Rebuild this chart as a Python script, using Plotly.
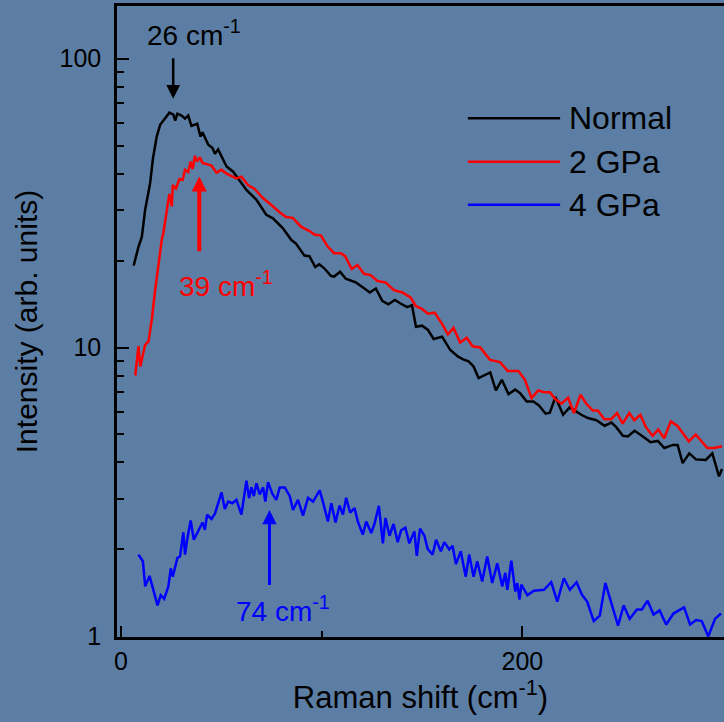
import math
import plotly.graph_objects as go

# Raman spectra: shift (cm^-1) and intensity (arb. units)
normal_shift = [6.3, 8.7, 10.4, 12, 14.5, 15.9, 17.8, 19.5, 22, 24.1, 26.1, 27, 28.1, 30.2,
                31.9, 33.5, 35.1, 38, 39.6, 40.6, 43.5, 45.6, 46.8, 48.4, 50, 52.6, 55.9,
                59.1, 62.5, 67.4, 72.4, 75.7, 80.6, 84.8, 87.2, 91.4, 93.9, 96.8, 98.8,
                101.3, 104.6, 106.2, 109.2, 112, 117, 120.3, 124, 127, 130.2, 133.2, 136.5,
                139.3, 142.6, 145, 147, 150, 153, 155.8, 160, 164.1, 168, 170.5, 173.2,
                175.7, 178.2, 184, 186.8, 189.8, 193.1, 196.4, 198.9, 202.2, 205.5, 208.3,
                211.6, 213.7, 216.5, 220.3, 223.6, 226.1, 229.4, 232.7, 236.9, 241, 244.4,
                246.8, 250.1, 252.6, 255.9, 260.1, 263.9, 267.5, 270.8, 275, 277.4, 279.9,
                283.2, 286.5, 291.4, 294.7, 298, 299.5]
normal_int = [19.2, 22.3, 24.2, 29.9, 37, 45, 53.7, 59, 62.2, 65, 64, 61, 64.5, 63.5,
              62, 63.5, 58.5, 59.5, 53.7, 55.6, 50.3, 49, 46.8, 48.5, 46, 42.3, 40.6,
              38, 35.1, 32.5, 28.8, 28, 25.9, 23.6, 22.9, 20.8, 20.7, 19, 19.4,
              18.8, 17.7, 17.6, 18.3, 17.3, 16.8, 16.2, 15.5, 16, 14.5, 14.1, 14.6,
              14.2, 13.8, 14, 11.8, 11.9, 11.5, 10.7, 10.9, 9.8, 9.3, 9.1, 8.95,
              8.6, 7.84, 8.2, 7.1, 7.73, 6.9, 7.15, 6.95, 6.5, 6.5, 6.3,
              5.9, 5.95, 6.74, 5.85, 6.2, 6.05, 5.85, 5.7, 5.6, 5.36, 5.5,
              5.3, 4.95, 4.92, 5.15, 4.92, 4.7, 4.75, 4.49, 4.6, 4.6, 3.98,
              4.3, 4.1, 4.08, 4.3, 3.58, 3.8]

gpa2_shift = [7.1, 8.7, 9.6, 10.9, 12, 13.7, 15.4, 17, 18.7, 20.3, 21.1, 23.6, 24.1, 25.3,
              25.8, 27.4, 29.1, 30.7, 31.9, 33.5, 34.7, 35.7, 36.8, 37.9, 39.3, 40.6, 42.6,
              45.1, 47.6, 50, 52.6, 55, 57.5, 60, 63.3, 66.6, 70.7, 74.8, 79, 82.3, 85.6,
              89.7, 93.9, 96.4, 99.7, 102.9, 106.2, 109.5, 111.7, 115, 117.8, 121.1, 124.4,
              127.7, 131.8, 136, 140.2, 144.3, 147, 150, 153, 156.3, 159.9, 162.9, 165.7,
              169, 172.3, 175.2, 179, 183.9, 188.9, 192.7, 198, 201.3, 204.6, 207.9, 210.9,
              213.7, 216.5, 219.5, 222.8, 225.7, 229, 231.8, 235.1, 237.6, 240.9, 244.2,
              247.2, 250, 253.3, 255.8, 258.8, 261.6, 264.9, 267.7, 270.7, 274, 277.3, 283,
              286.4, 292.2, 295.5, 299.5]
gpa2_int = [8.0, 10.1, 8.6, 9.4, 10.2, 10.5, 12.6, 15.8, 19.6, 23.6, 24.9, 31.6, 34, 30.8,
            36.5, 35.5, 38.3, 38, 41.2, 40.5, 44, 41.5, 46, 44, 45.5, 43.5, 43,
            42.6, 40.3, 41.2, 40, 39.2, 38.5, 39, 36.5, 35.4, 32.9, 31.2, 29.4, 28.3, 28.1,
            26.2, 25.3, 24.6, 24.4, 22.4, 21.2, 21.2, 20.7, 18.7, 19.3, 18, 17.8,
            17, 16.8, 15.8, 15.5, 14.9, 13.9, 13.6, 13.1, 13.2, 12.1, 11.1, 11.7,
            10.4, 10.8, 10.1, 10.0, 9.06, 8.9, 8.3, 8.3, 7.73, 6.68, 7.1, 7.0,
            7.0, 6.62, 6.39, 6.7, 5.93, 6.86, 6.4, 6.05, 6.05, 5.65, 5.65,
            5.93, 5.45, 5.93, 5.6, 5.85, 5.3, 4.95, 5.2, 4.85, 5.55, 5.35, 4.73,
            5.0, 4.49, 4.49, 4.55]

gpa4_shift = [8.7, 10.9, 12.05, 14.2, 18.2, 19.8, 21.5, 23.6, 24.8, 25.8, 28.1, 29.4, 31.05,
              31.9, 33, 34.7, 36.3, 38.5, 40.6, 41.8, 42.9, 45.1, 46.8, 50.1, 51.7, 53.4,
              55.5, 57.5, 60, 62.5, 63.8, 65, 66.2, 67.5, 69.1, 70.8, 71.9, 73.3, 75.4,
              77.4, 79.1, 81.6, 84.1, 85.7, 88.2, 90.7, 93.2, 95.7, 99, 100.6, 103.1,
              104.8, 106.9, 108.9, 110.6, 112.2, 114.2, 116.4, 118, 120.5, 122.2, 124.7,
              126.3, 128.5, 130.5, 131.8, 133.8, 135.8, 137.9, 139.6, 141.7, 143.7, 146.2,
              147.4, 149, 151.2, 152.8, 155.3, 157, 159.4, 161.1, 163.6, 165.2, 166.9,
              169.3, 171.8, 173.5, 175.7, 177.5, 180, 182.5, 185, 187.5, 190, 191.5,
              192.5, 194.5, 196.5, 197.5, 198.6, 199.5, 202.5, 205.8, 210.8, 214.4, 217.4,
              220.7, 223.7, 227, 229.8, 232.3, 235.6, 238.6, 241.4, 244.7, 247.7, 250.5,
              253.5, 257.1, 259.6, 262.4, 265.4, 268.4, 271.7, 275.3, 280.6, 283.6, 286.6,
              289.4, 292.7, 296, 299]
gpa4_int = [1.92, 1.82, 1.49, 1.62, 1.28, 1.39, 1.35, 1.49, 1.72, 1.61, 1.87, 1.89, 2.29,
            1.92, 2.17, 2.52, 2.16, 2.31, 2.48, 2.34, 2.64, 2.55, 2.66, 3.15, 2.76, 2.93,
            2.89, 2.97, 2.64, 3.46, 3.01, 3.28, 3.06, 3.39, 3.1, 3.28, 2.93, 3.42, 3.12,
            2.97, 3.28, 3.28, 3.06, 2.74, 2.97, 2.62, 3.02, 2.93, 3.2, 2.93, 2.5,
            2.89, 2.48, 2.84, 2.64, 3.02, 2.68, 2.78, 2.5, 2.25, 2.5, 2.28,
            2.45, 2.83, 2.1, 2.57, 2.23, 2.45, 2.12, 2.33, 2.38, 2.1, 2.31,
            1.9, 2.36, 2.23, 2.01, 1.92, 2.16, 1.97, 2.12, 2.0, 2.06, 1.78,
            1.97, 1.61, 1.92, 1.61, 1.82, 1.55, 1.89, 1.53, 1.79, 1.49, 1.66,
            1.45, 1.83, 1.43, 1.53, 1.34, 1.51, 1.39, 1.44, 1.45, 1.54, 1.32,
            1.59, 1.45, 1.54, 1.39, 1.32, 1.13, 1.18, 1.53, 1.29, 1.09, 1.28,
            1.15, 1.24, 1.24, 1.33, 1.19, 1.23, 1.1, 1.2, 1.26, 1.1, 1.14,
            1.13, 1.0, 1.15, 1.2]

series_names = ["Normal", "2 GPa", "4 GPa"]
series_colors = ["#000000", "#ff0000", "#0000ff"]

# Peak positions marked by arrows (cm^-1)
peak_positions = [26, 39, 74]

FONT = "Liberation Sans, Arial, sans-serif"
BG = "#5c7ea4"

fig = go.Figure()
for xs, ys, name, col in zip([normal_shift, gpa2_shift, gpa4_shift],
                             [normal_int, gpa2_int, gpa4_int],
                             series_names, series_colors):
    fig.add_trace(go.Scatter(x=xs, y=ys, mode="lines", name=name,
                             line=dict(color=col, width=2.5), showlegend=False))

annotations = []

# Peak arrows: (tail log-y, tip log-y) per spectrum
arrow_specs = [
    (peak_positions[0], 2.006, 1.861, "#000000", 2.5, 1.1),
    (peak_positions[1], 1.328, 1.592, "#ff0000", 4, 0.75),
    (peak_positions[2], 0.173, 0.438, "#0000ff", 3, 0.95),
]
for px_, tail, tip, col, w, hs in arrow_specs:
    annotations.append(dict(x=px_, y=tip, ax=px_, ay=tail, xref="x", yref="y",
                            axref="x", ayref="y", text="", showarrow=True,
                            arrowhead=2, arrowsize=hs, arrowwidth=w, arrowcolor=col))

# Peak labels
label_specs = [
    (36.3, 2.089, f"{peak_positions[0]} cm<sup>-1</sup>", "#000000"),
    (52.2, 1.220, f"{peak_positions[1]} cm<sup>-1</sup>", "#ff0000"),
    (80.5, 0.096, f"{peak_positions[2]} cm<sup>-1</sup>", "#0000ff"),
]
for lx, ly, txt, col in label_specs:
    annotations.append(dict(x=lx, y=ly, xref="x", yref="y", text=txt, showarrow=False,
                            xanchor="center", yanchor="middle",
                            font=dict(family=FONT, size=28, color=col)))

# Legend drawn as line samples plus labels (paper coordinates)
shapes = []
legend_y = [0.822, 0.753, 0.685]
for name, col, ly in zip(series_names, series_colors, legend_y):
    shapes.append(dict(type="line", xref="paper", yref="paper", x0=0.578, x1=0.730,
                       y0=ly, y1=ly, line=dict(color=col, width=2.5)))
    annotations.append(dict(x=0.742, y=ly, xref="paper", yref="paper", text=name,
                            showarrow=False, xanchor="left", yanchor="middle",
                            font=dict(family=FONT, size=32, color="#000000")))

minor_y = [v * 10 ** d for d in range(0, 3) for v in range(2, 10)]

fig.update_layout(
    width=724, height=722,
    margin=dict(l=117, r=0, t=6, b=85),
    paper_bgcolor=BG, plot_bgcolor=BG,
    font=dict(family=FONT, size=25, color="#000000"),
    annotations=annotations, shapes=shapes,
    xaxis=dict(
        range=[-2, 300.5], tickmode="array", tickvals=[0, 200], ticktext=["0", "200"],
        ticks="inside", ticklen=11, tickwidth=2, tickcolor="#000000",
        minor=dict(tickmode="array", tickvals=[100, 300], ticks="inside", ticklen=6,
                   tickwidth=2, tickcolor="#000000"),
        showline=True, linecolor="#000000", linewidth=2.5, mirror=True,
        showgrid=False, zeroline=False, ticklabelstandoff=0,
        tickfont=dict(family=FONT, size=25),
        title=dict(text="Raman shift (cm<sup>-1</sup>)", standoff=13,
                   font=dict(family=FONT, size=31)),
    ),
    yaxis=dict(
        type="log", range=[-0.002, 2.182], tickmode="array", tickvals=[1, 10, 100],
        ticktext=["1", "10", "100"],
        ticks="inside", ticklen=12, tickwidth=2, tickcolor="#000000",
        minor=dict(tickmode="array", tickvals=minor_y, ticks="inside", ticklen=7,
                   tickwidth=2, tickcolor="#000000"),
        showline=True, linecolor="#000000", linewidth=2.5, mirror=False,
        showgrid=False, zeroline=False, ticklabelstandoff=8,
        tickfont=dict(family=FONT, size=25),
        title=dict(text="Intensity (arb. units)", standoff=14,
                   font=dict(family=FONT, size=30)),
    ),
)

fig.write_html("out.html")
